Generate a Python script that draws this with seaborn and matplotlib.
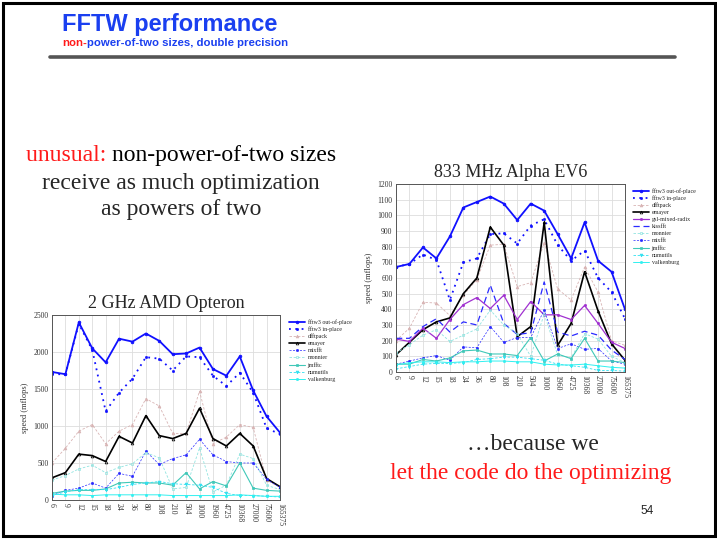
import numpy as np
import pandas as pd
import seaborn as sns
import matplotlib.pyplot as plt
from matplotlib.lines import Line2D

sizes = ["6", "9", "12", "15", "18", "24", "36", "80", "108", "210", "504",
         "1000", "1960", "4725", "10368", "27000", "75600", "165375"]

# 2 GHz AMD Opteron, speed in mflops
opt_fftw_out = [1730, 1700, 2400, 2050, 1860, 2180, 2140, 2250, 2150, 1970, 1980, 2060, 1770, 1680, 1940, 1480, 1130, 910]
opt_fftw_in = [1700, 1700, 2380, 2030, 1200, 1450, 1640, 1930, 1910, 1750, 1940, 1930, 1680, 1540, 1720, 1450, 970, 890]
opt_dfftpack = [500, 700, 930, 1020, 760, 930, 1020, 1370, 1270, 900, 900, 1470, 760, 850, 1020, 980, 270, 170]
opt_emayer = [300, 370, 620, 600, 520, 860, 770, 1140, 870, 830, 900, 1240, 830, 730, 900, 730, 290, 180]
opt_mixfft = [60, 130, 160, 230, 160, 360, 320, 660, 480, 560, 610, 820, 610, 520, 500, 500, 280, 170]
opt_monnier = [270, 330, 420, 470, 370, 440, 490, 640, 570, 150, 170, 700, 110, 200, 620, 560, 200, 140]
opt_jmfftc = [90, 120, 130, 130, 150, 230, 240, 230, 230, 200, 370, 150, 250, 190, 500, 160, 130, 120]
opt_numutils = [60, 110, 140, 140, 140, 170, 210, 230, 250, 220, 210, 200, 170, 90, 60, 60, 50, 40]
opt_valkenburg = [80, 70, 70, 60, 70, 70, 70, 70, 70, 60, 60, 60, 60, 60, 70, 60, 50, 50]

# 833 MHz Alpha EV6, speed in mflops
alp_fftw_out = [670, 690, 795, 725, 865, 1050, 1085, 1120, 1075, 970, 1075, 1030, 880, 725, 955, 710, 640, 400]
alp_fftw_in = [670, 690, 750, 715, 460, 700, 725, 880, 885, 820, 935, 975, 810, 710, 775, 600, 510, 340]
alp_dfftpack = [200, 280, 445, 440, 360, 490, 590, 810, 815, 545, 570, 825, 530, 460, 670, 510, 200, 170]
alp_emayer = [110, 190, 270, 320, 345, 500, 600, 925, 810, 225, 290, 955, 170, 310, 640, 390, 180, 75]
alp_gsl = [210, 195, 280, 215, 335, 430, 475, 405, 490, 335, 450, 365, 365, 335, 425, 310, 190, 150]
alp_kissfft = [215, 215, 290, 340, 255, 320, 300, 555, 310, 240, 250, 575, 255, 230, 260, 235, 140, 80]
alp_monnier = [120, 175, 235, 270, 195, 235, 275, 395, 300, 245, 100, 370, 110, 90, 245, 210, 100, 60]
alp_mixfft = [50, 70, 90, 105, 75, 160, 155, 290, 190, 220, 220, 395, 150, 180, 145, 150, 70, 50]
alp_jmfftc = [50, 50, 80, 70, 90, 135, 140, 115, 115, 105, 220, 70, 115, 85, 215, 70, 70, 60]
alp_numutils = [20, 35, 50, 55, 55, 60, 80, 85, 95, 95, 85, 75, 50, 40, 30, 10, 10, 5]
alp_valkenburg = [45, 60, 65, 65, 60, 65, 65, 70, 70, 65, 65, 50, 45, 45, 50, 40, 30, 25]

# name -> (color, linestyle, linewidth, marker, markersize, marker face)
styles = {
    "fftw3 out-of-place": ("#1010ff", "-", 1.3, "o", 2.0, "full"),
    "fftw3 in-place": ("#1010ff", (0, (1, 2.5)), 1.3, "o", 1.6, "full"),
    "dfftpack": ("#d8b4b4", (0, (3, 2)), 0.6, "^", 2.0, "full"),
    "emayer": ("#000000", "-", 1.2, "^", 2.0, "none"),
    "gsl-mixed-radix": ("#a030d0", "-", 0.9, "o", 1.6, "full"),
    "kissfft": ("#2a2aff", (0, (5, 3)), 0.9, None, 0, "full"),
    "mixfft": ("#2a2aff", (0, (3, 2)), 0.5, "o", 1.6, "full"),
    "monnier": ("#90e4e0", (0, (3, 2)), 0.6, "s", 2.0, "none"),
    "jmfftc": ("#40c8b8", "-", 0.8, "s", 2.0, "full"),
    "numutils": ("#30e0f0", (0, (3, 2)), 0.6, "v", 2.0, "full"),
    "valkenburg": ("#30f0f0", "-", 0.7, "o", 1.6, "full"),
}

opteron = {
    "fftw3 out-of-place": opt_fftw_out, "fftw3 in-place": opt_fftw_in,
    "dfftpack": opt_dfftpack, "emayer": opt_emayer, "mixfft": opt_mixfft,
    "monnier": opt_monnier, "jmfftc": opt_jmfftc, "numutils": opt_numutils,
    "valkenburg": opt_valkenburg,
}
alpha = {
    "fftw3 out-of-place": alp_fftw_out, "fftw3 in-place": alp_fftw_in,
    "dfftpack": alp_dfftpack, "emayer": alp_emayer, "gsl-mixed-radix": alp_gsl,
    "kissfft": alp_kissfft, "monnier": alp_monnier, "mixfft": alp_mixfft,
    "jmfftc": alp_jmfftc, "numutils": alp_numutils, "valkenburg": alp_valkenburg,
}

sns.set_style("white")
plt.rcParams["font.family"] = ["Liberation Serif", "DejaVu Serif"]

W, H = 717, 539
fig = plt.figure(figsize=(W / 100, H / 100), dpi=100)


def px_axes(x0, y0, x1, y1):
    return fig.add_axes([x0 / W, 1 - y1 / H, (x1 - x0) / W, (y1 - y0) / H])


def draw_chart(ax, data, ymax, ystep, title, leg_xy):
    pos = np.arange(len(sizes))
    for name, vals in data.items():
        c, ls, lw, mk, ms, fill = styles[name]
        df = pd.DataFrame({"pos": pos, "speed": vals})
        sns.lineplot(data=df, x="pos", y="speed", ax=ax, color=c, linestyle=ls,
                     linewidth=lw, marker=mk, markersize=ms, fillstyle=fill,
                     markeredgewidth=0.5, markeredgecolor=c, label=name,
                     legend=False)
    ax.set_xlim(0, len(sizes) - 1)
    ax.set_ylim(0, ymax)
    ax.set_xticks(pos)
    ax.set_xticklabels(sizes, rotation=-90, fontsize=5.5, color="#333333")
    ax.set_yticks(np.arange(0, ymax + 1, ystep))
    ax.tick_params(axis="y", labelsize=5.5, labelcolor="#333333", length=0, pad=2.5)
    ax.tick_params(axis="x", length=0, pad=2)
    ax.grid(True, color="#dddddd", linewidth=0.6)
    ax.set_axisbelow(True)
    for s in ax.spines.values():
        s.set_color("#555555")
        s.set_linewidth(0.7)
    ax.set_xlabel("")
    ax.set_ylabel("speed (mflops)", fontsize=6, color="#333333", labelpad=3)
    ax.set_title(title, fontsize=13, pad=5)
    handles = []
    for name in data:
        c, ls, lw, mk, ms, fill = styles[name]
        handles.append(Line2D([], [], color=c, linestyle=ls, linewidth=lw,
                              marker=mk, markersize=ms, fillstyle=fill,
                              markeredgecolor=c, markeredgewidth=0.5))
    fig.legend(handles, list(data.keys()), loc="upper left",
               bbox_to_anchor=(leg_xy[0] / W, 1 - leg_xy[1] / H),
               frameon=False, fontsize=4.3, handlelength=2.6,
               handletextpad=0.5, labelspacing=0.3, borderpad=0)


ax1 = px_axes(52, 315, 280, 500)
draw_chart(ax1, opteron, 2500, 500, "2 GHz AMD Opteron", (286, 316))

ax2 = px_axes(396, 184, 625, 372)
draw_chart(ax2, alpha, 1200, 100, "833 MHz Alpha EV6", (630, 185))

# slide frame and heading rule
fig.add_artist(plt.Rectangle((3 / W, 3 / H), 712 / W, 533 / H, fill=False,
                             edgecolor="black", linewidth=2.2,
                             transform=fig.transFigure))
fig.add_artist(Line2D([50 / W, 675 / W], [1 - 57 / H, 1 - 57 / H],
                      color="#555555", linewidth=2.6, transform=fig.transFigure))

renderer = fig.canvas.get_renderer()


def text_run(x, y, parts, ha="left", **kw):
    # draw consecutive coloured pieces of one line, starting at pixel x
    objs = []
    cur = x
    for s, col in parts:
        t = fig.text(cur / W, 1 - y / H, s, color=col, va="center", ha="left", **kw)
        cur += t.get_window_extent(renderer).width
        objs.append(t)
    if ha == "center":
        shift = (cur - x) / 2
        for t in objs:
            px, py = t.get_position()
            t.set_position((px - shift / W, py))
    return objs


sans = ["Liberation Sans", "DejaVu Sans"]
fig.text(62 / W, 1 - 24 / H, "FFTW performance", family=sans, weight="bold",
         fontsize=17, color="#1a3ff0", va="center", ha="left")
text_run(62, 43, [("non-", "#ff1a1a"),
                  ("power-of-two sizes, double precision", "#1a3ff0")],
         family=sans, weight="bold", fontsize=8.2)

text_run(181, 156, [("unusual: ", "#ff1a1a"), ("non-power-of-two sizes", "black")],
         ha="center", fontsize=17)
fig.text(181 / W, 1 - 183 / H, "receive as much optimization", fontsize=17,
         va="center", ha="center")
fig.text(181 / W, 1 - 210 / H, "as powers of two", fontsize=17,
         va="center", ha="center")

fig.text(533 / W, 1 - 445 / H, "\u2026because we", fontsize=17,
         va="center", ha="center")
fig.text(531 / W, 1 - 473 / H, "let the code do the optimizing", fontsize=17,
         color="#ff1a1a", va="center", ha="center")
fig.text(647 / W, 1 - 511 / H, "54", family=sans, fontsize=8.5,
         va="center", ha="center")

fig.savefig("out.png", dpi=100)
